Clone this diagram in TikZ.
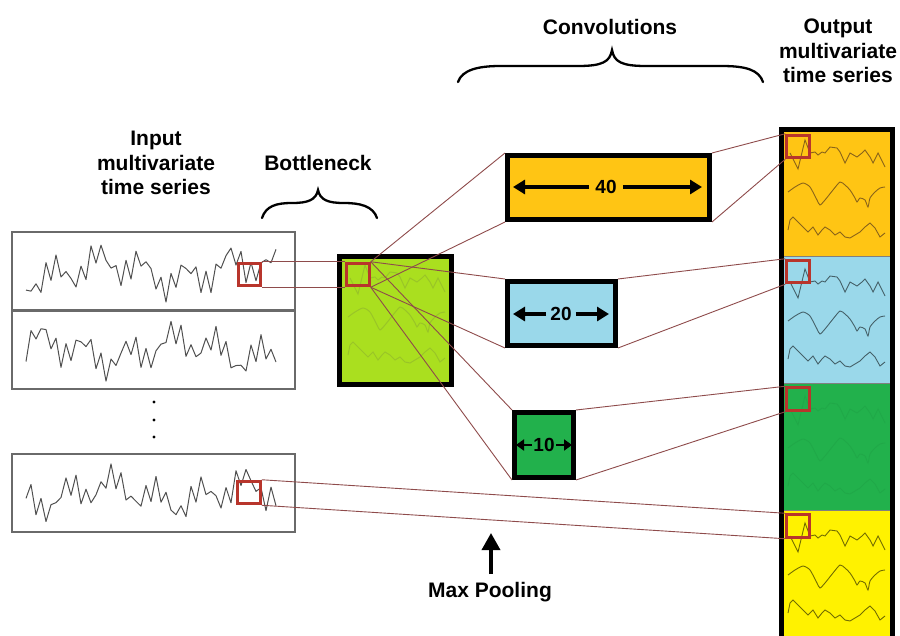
\documentclass[tikz,border=0pt]{standalone}
\usepackage{fontspec}
\setmainfont{Liberation Sans}
\usetikzlibrary{arrows.meta}

\definecolor{convorange}{HTML}{FFC514}
\definecolor{convblue}{HTML}{9AD8EA}
\definecolor{convgreen}{HTML}{22B14C}
\definecolor{bnlime}{HTML}{AADF1F}
\definecolor{outyellow}{HTML}{FFF200}
\definecolor{winred}{HTML}{B8352C}
\definecolor{linkred}{HTML}{8E4B4B}
\definecolor{seriesgray}{HTML}{505050}
\definecolor{panelgray}{HTML}{6A6A6A}

% three sample curves of one section (x absolute, y relative to the section top)
\newcommand{\threewaves}[3]{%
  \begin{scope}[shift={(#1,#2)}]
    \draw[#3] (790,26) -- (798,42) -- (805,13) -- (810,26) -- (815,25) -- (818,28)
      -- (822,25) -- (825,26) -- (830,20) -- (837,21) -- (840,25) -- (845,36)
      -- (850,26) -- (857,30) -- (862,26) -- (865,23) -- (870,30) -- (873,36)
      -- (878,26) -- (885,40);
    \draw[#3] plot[smooth, tension=0.4] coordinates {(788,65) (795,60) (803,56)
      (810,60) (817,73) (820,78) (825,73) (833,63) (840,55) (845,58) (850,63)
      (855,71) (857,75) (860,71) (865,73) (868,80) (870,71) (875,65) (880,61) (885,60)};
    \draw[#3] (788,103) -- (790,93) -- (793,90) -- (798,95) -- (803,100) -- (808,105)
      -- (813,100) -- (818,108) -- (822,103) -- (825,100) -- (830,103) -- (835,108)
      -- (840,105) -- (845,110) -- (850,111) -- (855,108) -- (860,105) -- (865,100)
      -- (870,96) -- (875,101) -- (880,110) -- (885,106);
  \end{scope}}

% jagged input series: #1 = middle y, #2 = amplitude, #3 = phase
\newcommand{\inseries}[3]{%
  \draw[series] (26,{#1+#2*(0.5*sin(#3)+0.45*sin(2*#3)+0.35*sin(3*#3))})
    \foreach \kk in {1,...,50} {
      -- ({26+5*\kk},{#1+#2*(0.5*sin(\kk*157+#3)+0.45*sin(\kk*41+2*#3)+0.35*sin(\kk*13+3*#3))})
    };}

\begin{document}
\begin{tikzpicture}[x=1pt,y=-1pt,
  panel/.style={draw=panelgray, line width=1.4pt, minimum width=283pt,
    minimum height=78pt, inner sep=0pt},
  series/.style={draw=seriesgray, line width=1pt, line join=round},
  convbox/.style={draw=black, line width=5pt, inner sep=0pt},
  outsec/.style={inner sep=0pt, outer sep=0pt, minimum width=116pt},
  win/.style={draw=winred, line width=3pt, minimum size=22.5pt, inner sep=0pt},
  link/.style={draw=linkred, line width=0.9pt},
  brace/.style={line width=2.3pt, line cap=round},
  heading/.style={font=\fontsize{21}{24.5}\selectfont\bfseries, align=center,
    inner sep=0pt, text=black},
  dimlabel/.style={font=\fontsize{19}{19}\selectfont\bfseries, inner sep=0pt,
    text=black},
  dimarrow/.style={line width=3.2pt, -{Triangle[length=12pt,width=14pt]}},
  smallarrow/.style={line width=2.2pt, -{Triangle[length=8pt,width=11pt]}},
  poolarrow/.style={line width=3.5pt, -{Triangle[length=17pt,width=18pt]}}]

\useasboundingbox (0,0) rectangle (900,635);

% ---------- input multivariate time series ----------
\node[panel] (in1) at (153.5,271) {};
\node[panel] (in2) at (153.5,350) {};
\node[panel] (in3) at (153.5,493) {};
\inseries{271}{25}{20}
\inseries{350}{25}{75}
\inseries{494}{24}{140}
\foreach \yy in {402,420,437} \fill (154,\yy) circle (1.7pt);

% ---------- bottleneck ----------
\node[convbox, fill=bnlime, minimum width=112pt, minimum height=128pt] (bn) at (395.5,320.5) {};
\threewaves{-440}{252}{draw=black!20!bnlime!75!gray, line width=1pt, opacity=0.45}

% ---------- convolutions ----------
\node[convbox, fill=convorange, minimum width=202pt, minimum height=64pt] (c40) at (608.5,187.5) {};
\node[convbox, fill=convblue, minimum width=108pt, minimum height=64pt] (c20) at (561.5,313.5) {};
\node[convbox, fill=convgreen, minimum width=59pt, minimum height=65pt] (c10) at (544,445) {};

\node[dimlabel, inner xsep=6pt] (t40) at (606,187) {40};
\coordinate (a40l) at (513,187);
\coordinate (a40r) at (702,187);
\draw[dimarrow] (t40.west) -- (a40l);
\draw[dimarrow] (t40.east) -- (a40r);

\node[dimlabel, inner xsep=4pt] (t20) at (561,314) {20};
\coordinate (a20l) at (513,314);
\coordinate (a20r) at (609,314);
\draw[dimarrow] (t20.west) -- (a20l);
\draw[dimarrow] (t20.east) -- (a20r);

\node[dimlabel, inner xsep=1.5pt] (t10) at (544,445) {10};
\coordinate (a10l) at (516,445);
\coordinate (a10r) at (572,445);
\draw[smallarrow] (t10.west) -- (a10l);
\draw[smallarrow] (t10.east) -- (a10r);

% ---------- output multivariate time series ----------
\node[outsec, fill=convorange, minimum height=129pt] (o1) at (837,191.5) {};
\node[outsec, fill=convblue, minimum height=127pt] (o2) at (837,319.5) {};
\node[outsec, fill=convgreen, minimum height=127pt] (o3) at (837,446.5) {};
\node[outsec, fill=outyellow, minimum height=135pt] (o4) at (837,577.5) {};
\draw[gray, line width=1pt] (o1.south west) -- (o1.south east);
\draw[gray, line width=1pt] (o2.south west) -- (o2.south east);
\draw[gray, line width=1pt] (o3.south west) -- (o3.south east);
\threewaves{0}{127}{draw=black!55!convorange!70!brown, line width=0.9pt}
\threewaves{0}{256}{draw=black!55!convblue, line width=0.9pt}
\threewaves{0}{383}{draw=black!15!convgreen, line width=0.9pt, opacity=0.3}
\threewaves{0}{510}{draw=black!55!outyellow, line width=0.9pt}
\draw[line width=5pt] (781.5,660) |- (892.5,129.5) -- (892.5,660);

% ---------- windows ----------
\node[win] (wi1) at (249.5,274.5) {};
\node[win] (wi3) at (249,492.5) {};
\node[win] (wb) at (358,274.5) {};
\node[win] (wo1) at (798,146.5) {};
\node[win] (wo2) at (798,271.5) {};
\node[win] (wo3) at (798,399) {};
\node[win] (wo4) at (798,526) {};

% ---------- receptive-field links ----------
\draw[link] (wi1.north east) -- (wb.north west);
\draw[link] (wi1.south east) -- (wb.south west);
\draw[link] (wi3.north east) -- (wo4.north west);
\draw[link] (wi3.south east) -- (wo4.south west);
\draw[link] (wb.north east) -- (c40.north west);
\draw[link] (wb.south east) -- (c40.south west);
\draw[link] (wb.north east) -- (c20.north west);
\draw[link] (wb.south east) -- (c20.south west);
\draw[link] (wb.north east) -- (c10.north west);
\draw[link] (wb.south east) -- (c10.south west);
\draw[link] (c40.north east) -- (wo1.north west);
\draw[link] (c40.south east) -- (wo1.south west);
\draw[link] (c20.north east) -- (wo2.north west);
\draw[link] (c20.south east) -- (wo2.south west);
\draw[link] (c10.north east) -- (wo3.north west);
\draw[link] (c10.south east) -- (wo3.south west);

% ---------- braces ----------
\draw[brace] (262,218) .. controls (266,206) and (276,203) .. (292,203)
  .. controls (308,203) and (316,200) .. (318,190)
  .. controls (320,200) and (328,203) .. (344,203)
  .. controls (360,203) and (373,206) .. (377,218);
\draw[brace] (458,82) .. controls (462,70) and (478,66) .. (500,66) -- (578,66)
  .. controls (602,66) and (610,62) .. (612,50)
  .. controls (614,62) and (622,66) .. (646,66) -- (722,66)
  .. controls (746,66) and (759,70) .. (763,82);

% ---------- labels ----------
\node[heading] (lin) at (156,163) {Input\\multivariate\\time series};
\node[heading] (lbn) at (318,163) {Bottleneck};
\node[heading] (lconv) at (610,27) {Convolutions};
\node[heading] (lout) at (838,51) {Output\\multivariate\\time series};
\node[heading] (lpool) at (490,592) {Max Pooling};
\coordinate (poolfoot) at (491,574);
\coordinate (pooltip) at (491,533);
\draw[poolarrow] (poolfoot) -- (pooltip);
\end{tikzpicture}
\end{document}
